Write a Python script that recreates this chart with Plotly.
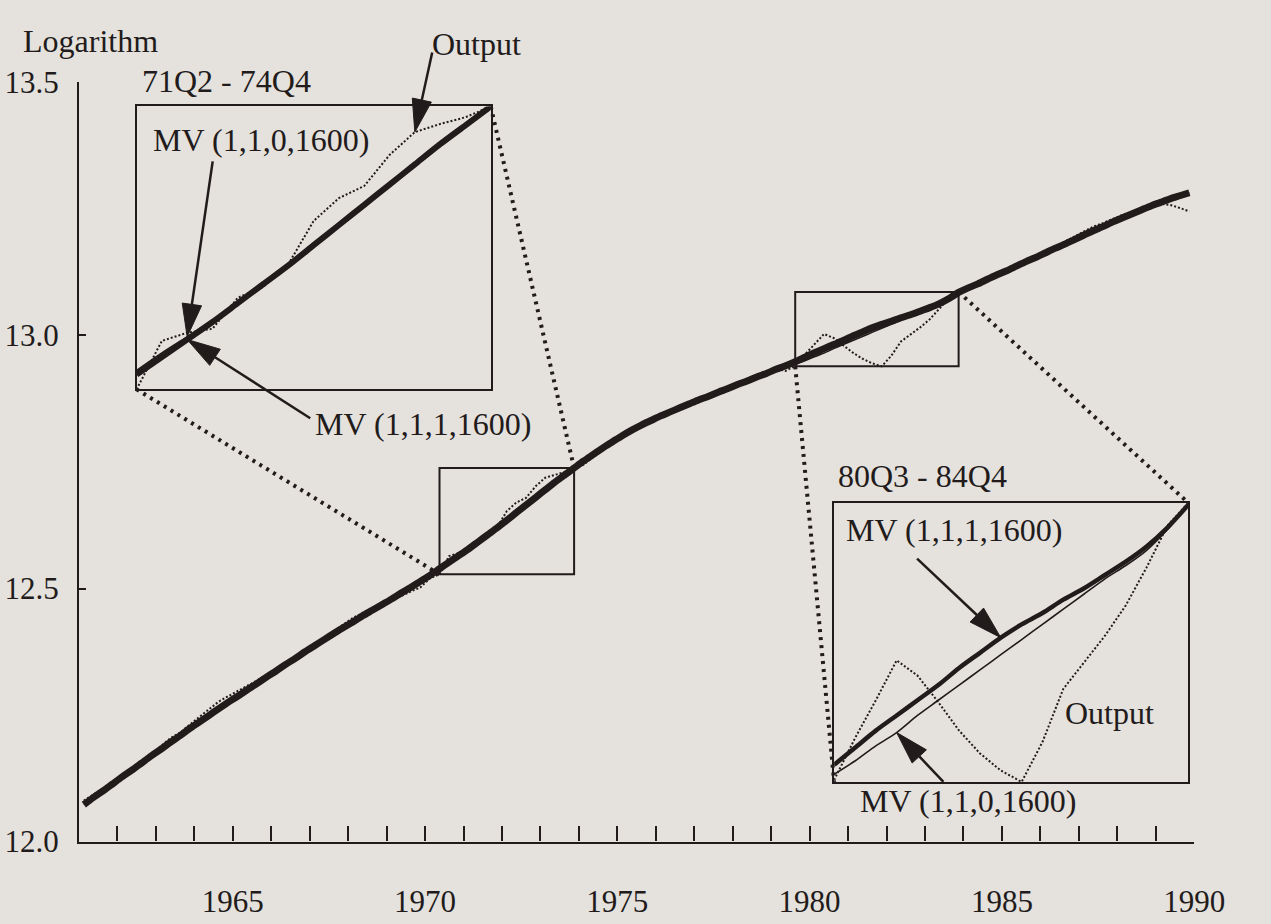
import plotly.graph_objects as go
import math

# ---------------- data (log of output, quarterly 1962Q1 - 1990Q4) ----------------
YEARS = list(range(1962, 1991))

OUTPUT = [
    12.081, 12.093, 12.104, 12.117,  # 1962
    12.130, 12.141, 12.157, 12.173,  # 1963
    12.188, 12.204, 12.215, 12.231,  # 1964
    12.246, 12.261, 12.276, 12.287,  # 1965
    12.297, 12.308, 12.318, 12.329,  # 1966
    12.337, 12.348, 12.358, 12.373,  # 1967
    12.387, 12.402, 12.416, 12.429,  # 1968
    12.442, 12.452, 12.461, 12.470,  # 1969
    12.477, 12.485, 12.494, 12.502,  # 1970
    12.520, 12.528, 12.564, 12.570,  # 1971
    12.573, 12.596, 12.604, 12.621,  # 1972
    12.653, 12.670, 12.679, 12.702,  # 1973
    12.719, 12.725, 12.730, 12.738,  # 1974
    12.745, 12.760, 12.778, 12.795,  # 1975
    12.805, 12.815, 12.823, 12.830,  # 1976
    12.838, 12.846, 12.853, 12.860,  # 1977
    12.868, 12.880, 12.890, 12.898,  # 1978
    12.906, 12.912, 12.920, 12.925,  # 1979
    12.935, 12.930, 12.940, 12.962,  # 1980
    12.982, 13.003, 12.995, 12.981,  # 1981
    12.966, 12.954, 12.945, 12.939,  # 1982
    12.960, 12.988, 13.002, 13.016,  # 1983
    13.032, 13.052, 13.074, 13.086,  # 1984
    13.096, 13.105, 13.115, 13.123,  # 1985
    13.130, 13.138, 13.146, 13.155,  # 1986
    13.165, 13.175, 13.185, 13.195,  # 1987
    13.205, 13.215, 13.222, 13.230,  # 1988
    13.238, 13.244, 13.250, 13.256,  # 1989
    13.260, 13.258, 13.252, 13.245,  # 1990
]

MV_1110 = [  # MV (1,1,1,1600)
    12.073, 12.087, 12.100, 12.114,
    12.128, 12.141, 12.155, 12.169,
    12.182, 12.196, 12.209, 12.223,
    12.236, 12.249, 12.262, 12.275,
    12.287, 12.300, 12.312, 12.325,
    12.337, 12.350, 12.362, 12.375,
    12.387, 12.399, 12.411, 12.423,
    12.434, 12.446, 12.457, 12.468,
    12.479, 12.491, 12.502, 12.514,
    12.526, 12.539, 12.552, 12.565,
    12.578, 12.592, 12.606, 12.620,
    12.635, 12.650, 12.665, 12.680,
    12.695, 12.710, 12.724, 12.738,
    12.752, 12.765, 12.778, 12.790,
    12.802, 12.813, 12.823, 12.832,
    12.841, 12.849, 12.857, 12.865,
    12.873, 12.880, 12.888, 12.895,
    12.903, 12.910, 12.918, 12.925,
    12.933, 12.940, 12.948, 12.957,
    12.966, 12.974, 12.982, 12.990,
    12.999, 13.007, 13.015, 13.022,
    13.028, 13.035, 13.041, 13.048,
    13.055, 13.063, 13.073, 13.085,
    13.094, 13.102, 13.111, 13.120,
    13.128, 13.137, 13.146, 13.154,
    13.163, 13.172, 13.180, 13.189,
    13.198, 13.207, 13.215, 13.224,
    13.232, 13.240, 13.248, 13.256,
    13.263, 13.270, 13.276, 13.282,
]

MV_1100 = [  # MV (1,1,0,1600)
    12.073, 12.087, 12.100, 12.114,
    12.128, 12.141, 12.155, 12.169,
    12.182, 12.196, 12.209, 12.223,
    12.236, 12.249, 12.262, 12.275,
    12.287, 12.300, 12.312, 12.325,
    12.337, 12.350, 12.362, 12.375,
    12.387, 12.399, 12.411, 12.423,
    12.434, 12.446, 12.457, 12.468,
    12.479, 12.491, 12.502, 12.514,
    12.527, 12.542, 12.555, 12.567,
    12.579, 12.592, 12.606, 12.620,
    12.635, 12.650, 12.665, 12.680,
    12.695, 12.710, 12.724, 12.738,
    12.752, 12.765, 12.778, 12.790,
    12.802, 12.813, 12.823, 12.832,
    12.841, 12.849, 12.857, 12.865,
    12.873, 12.880, 12.888, 12.895,
    12.902, 12.908, 12.915, 12.922,
    12.929, 12.936, 12.943, 12.950,
    12.958, 12.965, 12.974, 12.982,
    12.990, 12.998, 13.006, 13.014,
    13.022, 13.030, 13.038, 13.046,
    13.053, 13.061, 13.072, 13.085,
    13.093, 13.102, 13.111, 13.120,
    13.128, 13.137, 13.146, 13.154,
    13.163, 13.172, 13.180, 13.189,
    13.198, 13.207, 13.215, 13.224,
    13.232, 13.240, 13.248, 13.256,
    13.263, 13.270, 13.276, 13.282,
]

QUARTER_LABELS = [f"{y % 100:02d}Q{q}" for y in YEARS for q in range(1, 5)]
TIME = [y + (q - 0.5) / 4 for y in YEARS for q in range(1, 5)]  # mid-quarter

WINDOW_1 = ("71Q2", "74Q4")
WINDOW_2 = ("80Q3", "84Q4")

Y_TICKS = [12.0, 12.5, 13.0, 13.5]
Y_TICK_TEXT = ["12.0", "12.5", "13.0", "13.5"]
X_TICK_YEARS = YEARS
X_LABEL_EVERY = 5

# ---------------- styling / layout ----------------
W, H = 1271, 924
INK = "#221b1b"
BG = "#e5e1dc"
FONT = "Liberation Serif"
FS_TICK = 31
FS_TEXT = 32

def px_x(p):
    return p / W

def px_y(p):
    return 1 - p / H

MAIN_X = [px_x(81), px_x(1224)]
MAIN_Y = [px_y(857), px_y(68)]
INSET1_X = [px_x(140), px_x(503)]
INSET1_Y = [px_y(387), px_y(93)]
INSET2_X = [px_x(855), px_x(1218)]
INSET2_Y = [px_y(795), px_y(505)]
X_RANGE = [1962, 1991]
Y_RANGE = [12.0, 13.5]

fig = go.Figure()

def add_series(xa, ya, idx, thick_w, thin_w, out_w):
    xs = [TIME[i] for i in idx]
    fig.add_trace(go.Scatter(x=xs, y=[OUTPUT[i] for i in idx], mode="lines",
                             line=dict(color=INK, width=out_w, dash="2px,2px"),
                             xaxis=xa, yaxis=ya, showlegend=False, hoverinfo="skip"))
    fig.add_trace(go.Scatter(x=xs, y=[MV_1100[i] for i in idx], mode="lines",
                             line=dict(color=INK, width=thin_w, shape="spline", smoothing=0.8),
                             xaxis=xa, yaxis=ya, showlegend=False, hoverinfo="skip"))
    fig.add_trace(go.Scatter(x=xs, y=[MV_1110[i] for i in idx], mode="lines",
                             line=dict(color=INK, width=thick_w, shape="spline", smoothing=0.8),
                             xaxis=xa, yaxis=ya, showlegend=False, hoverinfo="skip"))

all_idx = list(range(len(TIME)))
add_series("x", "y", all_idx, 7, 1.5, 2)

def window_info(win):
    i0 = QUARTER_LABELS.index(win[0])
    i1 = QUARTER_LABELS.index(win[1])
    idx = list(range(i0, i1 + 1))
    vals = [OUTPUT[i] for i in idx] + [MV_1110[i] for i in idx] + [MV_1100[i] for i in idx]
    return idx, [TIME[i0], TIME[i1]], [min(vals), max(vals)]

idx1, xr1, yr1 = window_info(WINDOW_1)
idx2, xr2, yr2 = window_info(WINDOW_2)
add_series("x2", "y2", idx1, 6, 1.6, 2)
add_series("x3", "y3", idx2, 4.5, 1.6, 2)

axis_common = dict(showgrid=False, zeroline=False, color=INK)
inset_axis = dict(showline=True, mirror=True, linecolor=INK, linewidth=2.2,
                  ticks="", showticklabels=False, showgrid=False, zeroline=False)

fig.update_layout(
    width=W, height=H,
    margin=dict(l=0, r=0, t=0, b=0),
    paper_bgcolor=BG, plot_bgcolor="rgba(0,0,0,0)",
    font=dict(family=FONT, size=FS_TEXT, color=INK),
    showlegend=False,
    xaxis=dict(domain=MAIN_X, range=X_RANGE, anchor="y",
               showline=True, linecolor=INK, linewidth=2.2,
               ticks="inside", ticklen=15, tickwidth=2, tickcolor=INK,
               tickvals=[y + 1 for y in X_TICK_YEARS],
               ticktext=[str(y) if y % X_LABEL_EVERY == 0 else "" for y in X_TICK_YEARS],
               tickfont=dict(family=FONT, size=FS_TICK, color=INK),
               ticklabelstandoff=31, **axis_common),
    yaxis=dict(domain=MAIN_Y, range=Y_RANGE, anchor="x",
               showline=True, linecolor=INK, linewidth=2.2,
               ticks="inside", ticklen=7, tickwidth=2, tickcolor=INK,
               tickvals=Y_TICKS, ticktext=Y_TICK_TEXT,
               tickfont=dict(family=FONT, size=FS_TICK, color=INK),
               ticklabelstandoff=12, **axis_common),
    xaxis2=dict(domain=INSET1_X, range=xr1, anchor="y2", **inset_axis),
    yaxis2=dict(domain=INSET1_Y, range=yr1, anchor="x2", **inset_axis),
    xaxis3=dict(domain=INSET2_X, range=xr2, anchor="y3", **inset_axis),
    yaxis3=dict(domain=INSET2_Y, range=yr2, anchor="x3", **inset_axis),
)

# zoom boxes drawn on the main chart
for xr, yr in [(xr1, yr1), (xr2, yr2)]:
    fig.add_shape(type="rect", xref="x", yref="y", x0=xr[0], x1=xr[1], y0=yr[0], y1=yr[1],
                  line=dict(color=INK, width=2), fillcolor="rgba(0,0,0,0)")

def paper_to_main(fx, fy):
    x = X_RANGE[0] + (fx - MAIN_X[0]) / (MAIN_X[1] - MAIN_X[0]) * (X_RANGE[1] - X_RANGE[0])
    y = Y_RANGE[0] + (fy - MAIN_Y[0]) / (MAIN_Y[1] - MAIN_Y[0]) * (Y_RANGE[1] - Y_RANGE[0])
    return x, y

dotted = dict(color=INK, width=4, dash="3px,5px")
for xr, yr, ix, iy in [(xr1, yr1, INSET1_X, INSET1_Y), (xr2, yr2, INSET2_X, INSET2_Y)]:
    bx, by = paper_to_main(ix[0], iy[0])
    fig.add_shape(type="line", xref="x", yref="y", x0=xr[0], y0=yr[0], x1=bx, y1=by, line=dotted)
    tx, ty = paper_to_main(ix[1], iy[1])
    fig.add_shape(type="line", xref="x", yref="y", x0=xr[1], y0=yr[1], x1=tx, y1=ty, line=dotted)

# text labels
def label(text, px, py, anchor="center"):
    fig.add_annotation(text=text, x=px_x(px), y=px_y(py), xref="paper", yref="paper",
                       xanchor=anchor, yanchor="middle", showarrow=False,
                       font=dict(family=FONT, size=FS_TEXT, color=INK))

label("Logarithm", 22, 25, "left")
label("71Q2 - 74Q4", 143, 67, "left")
label("Output", 488, 28)
label("MV (1,1,0,1600)", 268, 128)
label("MV (1,1,1,1600)", 434, 423)
label("80Q3 - 84Q4", 857, 477, "left")
label("MV (1,1,1,1600)", 978, 533)
label("Output", 1137, 723)
label("MV (1,1,0,1600)", 992, 815)

# arrows (line + filled triangular head) pointing at series inside the insets
def data_to_px(xd, yd, xr, yr, x, y):
    fx = xd[0] + (x - xr[0]) / (xr[1] - xr[0]) * (xd[1] - xd[0])
    fy = yd[0] + (y - yr[0]) / (yr[1] - yr[0]) * (yd[1] - yd[0])
    return fx * W, (1 - fy) * H

HEAD_LEN, HEAD_HALF = 34, 10

def arrow(inset, q, series, tail_px):
    xd, yd, xr, yr = inset
    i = QUARTER_LABELS.index(q)
    tx, ty = data_to_px(xd, yd, xr, yr, TIME[i], series[i])
    sx, sy = tail_px
    dx, dy = tx - sx, ty - sy
    d = math.hypot(dx, dy)
    ux, uy = dx / d, dy / d
    bx, by = tx - ux * HEAD_LEN, ty - uy * HEAD_LEN
    nx, ny = -uy, ux
    fig.add_shape(type="line", xref="paper", yref="paper",
                  x0=px_x(sx), y0=px_y(sy), x1=px_x(bx), y1=px_y(by),
                  line=dict(color=INK, width=2.5))
    path = (f"M {px_x(tx)},{px_y(ty)} L {px_x(bx + nx * HEAD_HALF)},{px_y(by + ny * HEAD_HALF)} "
            f"L {px_x(bx - nx * HEAD_HALF)},{px_y(by - ny * HEAD_HALF)} Z")
    fig.add_shape(type="path", xref="paper", yref="paper", path=path,
                  line=dict(color=INK, width=1), fillcolor=INK)

INSET1 = (INSET1_X, INSET1_Y, xr1, yr1)
INSET2 = (INSET2_X, INSET2_Y, xr2, yr2)
arrow(INSET1, "74Q1", OUTPUT, (443, 37))
arrow(INSET1, "71Q4", MV_1100, (218, 150))
arrow(INSET1, "71Q4", MV_1110, (318, 417))
arrow(INSET2, "82Q3", MV_1110, (940, 563))
arrow(INSET2, "81Q2", MV_1100, (967, 795))

fig.write_html(
    "out.html",
    config={"displayModeBar": False},
    post_script=("document.body.style.margin='0';document.body.style.overflow='hidden';"
                 f"document.body.style.background='{BG}';"),
)
